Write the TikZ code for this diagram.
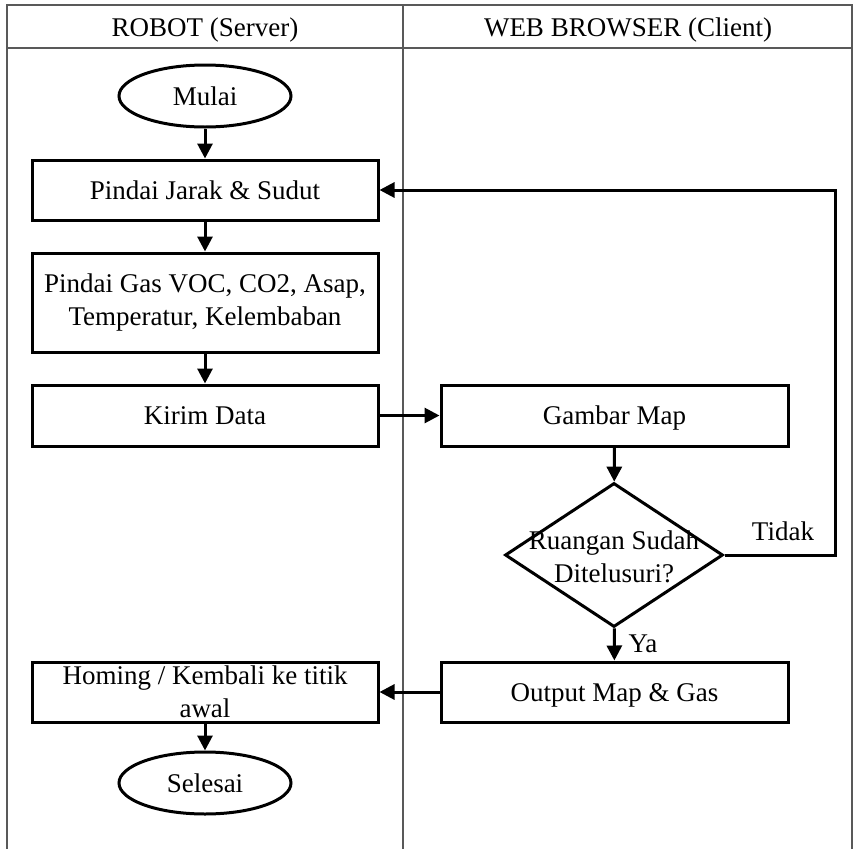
\documentclass[tikz,border=0pt]{standalone}
\usepackage{fontspec}
\setmainfont{Liberation Serif}
\usetikzlibrary{shapes.geometric,arrows.meta}

\tikzset{
  lane/.style={draw=black!65, line width=2.2pt},
  proc/.style={draw, line width=3pt, rectangle, minimum width=346pt, inner sep=0pt, align=center},
  term/.style={draw, line width=3pt, ellipse, minimum width=172pt, minimum height=62pt, inner sep=0pt, oneline},
  decision/.style={draw, line width=3pt, diamond, minimum width=218pt, minimum height=144pt, inner sep=0pt},
  flow/.style={line width=3pt, -{Triangle[length=15pt,width=15pt]}},
  oneline/.style={text height=18pt, text depth=0pt},
  txt/.style={inner sep=0pt, align=center}
}

\begin{document}
\begin{tikzpicture}[x=1pt, y=-1pt, font=\fontsize{27}{33}\selectfont]
\useasboundingbox (0,0) rectangle (855,849);
\fill[white] (0,0) rectangle (855,849);

% swimlanes
\draw[lane] (7,849) -- (7,5) -- (852,5) -- (852,849);
\draw[lane] (7,48) -- (852,48);
\draw[lane] (403,5) -- (403,849);
\node[txt, oneline] (laneA) at (205,27) {ROBOT (Server)};
\node[txt, oneline] (laneB) at (628,27) {WEB BROWSER (Client)};

% robot side
\node[term] (start) at (205,96) {Mulai};
\node[proc, oneline, minimum height=60pt] (scan1) at (205,190) {Pindai Jarak \& Sudut};
\node[proc, minimum height=99pt] (scan2) at (205,302.5) {Pindai Gas VOC, CO2, Asap,\\Temperatur, Kelembaban};
\node[proc, oneline, minimum height=61pt] (send) at (205,415.5) {Kirim Data};
\node[proc, minimum height=60pt] (home) at (205,692) {Homing / Kembali ke titik\\awal};
\node[term] (stop) at (205,783) {Selesai};

% browser side
\node[proc, oneline, minimum width=347pt, minimum height=61pt] (map) at (614.5,415.5) {Gambar Map};
\node[decision] (dec) at (614,555) {};
\node[txt] (decText) at (614,557) {Ruangan Sudah\\Ditelusuri?};
\node[proc, oneline, minimum width=347pt, minimum height=60pt] (out) at (614.5,692) {Output Map \& Gas};
\coordinate (turn) at (835,190);

% connectors
\draw[flow] (start) -- (scan1);
\draw[flow] (scan1) -- (scan2);
\draw[flow] (scan2) -- (send);
\draw[flow] (send) -- (map);
\draw[flow] (map) -- (dec);
\draw[flow] (dec.east) -| (turn) -- (scan1.east);
\draw[flow] (dec) -- (out);
\draw[flow] (out) -- (home);
\draw[flow] (home) -- (stop);

% branch labels
\node[txt, oneline] (no) at (783,531) {Tidak};
\node[txt, oneline] (yes) at (643,643) {Ya};
\end{tikzpicture}
\end{document}
